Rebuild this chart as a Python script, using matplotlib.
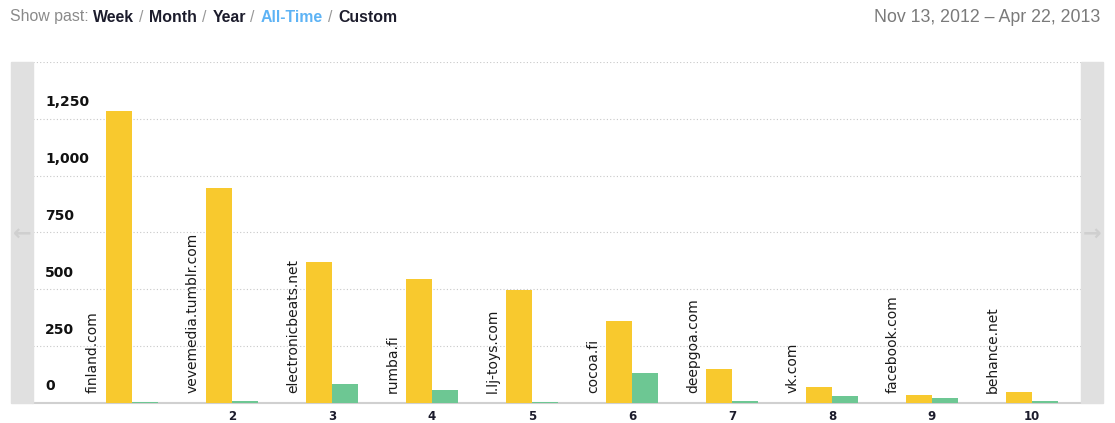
import matplotlib
matplotlib.use("Agg")
import matplotlib.pyplot as plt
import matplotlib.transforms as mtransforms
from matplotlib.patches import Rectangle
import numpy as np

# referring sites, all-time
sites = ["finland.com", "vevemedia.tumblr.com", "electronicbeats.net", "rumba.fi",
         "l.lj-toys.com", "cocoa.fi", "deepgoa.com", "vk.com", "facebook.com", "behance.net"]
tick_labels = ["", "2", "3", "4", "5", "6", "7", "8", "9", "10"]
visits = [1285, 945, 619, 544, 497, 362, 148, 72, 37, 49]
conversions = [6, 8, 82, 57, 6, 132, 7, 32, 22, 7]
y_ticks = [0, 250, 500, 750, 1000, 1250]

yellow = "#f8c92e"
green = "#6dc793"
dark = "#1c1c2c"

W, H = 1115, 423
fig = plt.figure(figsize=(W / 100, H / 100), dpi=100)

# plot area in pixel coords
left, right, top, bottom = 33, 1081, 62, 403
ax = fig.add_axes([left / W, 1 - bottom / H, (right - left) / W, (bottom - top) / H])

x = np.arange(1, len(sites) + 1)
bw = 0.26
ax.bar(x - bw / 2, visits, width=bw, color=yellow, zorder=3)
ax.bar(x + bw / 2, conversions, width=bw, color=green, zorder=3)

ax.set_xlim(0.01, 10.49)
ax.set_ylim(0, 1500)

for v in [250, 500, 750, 1000, 1250, 1500]:
    ax.axhline(v, color="#c8c8c8", lw=0.8, ls=(0, (1, 2)), zorder=1)
ax.spines["bottom"].set_color("#d0d0d0")
ax.spines["bottom"].set_linewidth(1.5)
for s in ["top", "left", "right"]:
    ax.spines[s].set_visible(False)
ax.set_yticks([])
ax.set_xticks(x)
ax.set_xticklabels(tick_labels, fontsize=8.5, fontweight="bold", color=dark)
ax.tick_params(axis="x", length=0, pad=5)

# y labels sit above their gridline
trans = mtransforms.blended_transform_factory(ax.transAxes, ax.transData)
for v in y_ticks:
    ax.annotate(f"{v:,}", xy=(12 / (right - left), v), xycoords=trans,
                xytext=(0, 12), textcoords="offset points",
                ha="left", va="center", fontsize=10, fontweight="bold", color="#111111")

# site names, vertical, left of each group
for xi, name in zip(x, sites):
    ax.annotate(name, xy=(xi - 0.39, 0), xytext=(0, 7), textcoords="offset points",
                rotation=90, ha="center", va="bottom", fontsize=10, color="#1a1a1a", zorder=5)

# grey side panels with arrows
for px in (11, 1081):
    fig.patches.append(Rectangle((px / W, 1 - bottom / H), 22 / W, (bottom - top) / H,
                                 transform=fig.transFigure, color="#e0e0e0", zorder=0))
fig.text(22 / W, 1 - 234 / H, "\u2190", ha="center", va="center", fontsize=16,
         fontweight="bold", color="#cfcfcf")
fig.text(1092 / W, 1 - 234 / H, "\u2192", ha="center", va="center", fontsize=16,
         fontweight="bold", color="#cfcfcf")

# header line, pieces chained one after another with a small gap
font = "Liberation Sans"
fs = 11.4
parts = [("Week", dark, "bold"), ("/", "#999999", "normal"),
         ("Month", dark, "bold"), ("/", "#999999", "normal"), ("Year", dark, "bold"),
         ("/", "#999999", "normal"), ("All-Time", "#5db3f5", "bold"), ("/", "#999999", "normal"),
         ("Custom", dark, "bold")]
last = fig.text(10 / W, 1 - 17 / H, "Show past:", color="#8a8a8a", fontsize=fs,
                family=font, va="center", ha="left")
prev_txt = "Show past:"
for txt, col, wt in parts:
    gap = 4.6 if prev_txt == "/" else 3.2
    last = fig.add_artist(matplotlib.text.Annotation(
        txt, xy=(1, 0.5), xycoords=last, xytext=(gap, 0), textcoords="offset points",
        va="center", ha="left", color=col, fontweight=wt, fontsize=fs, family=font,
        annotation_clip=False))
    prev_txt = txt

fig.text(1100 / W, 1 - 17 / H, "Nov 13, 2012 \u2013 Apr 22, 2013", ha="right", va="center",
         fontsize=12.8, family=font, color="#7a7a7a")

fig.savefig("out.png", dpi=100)
